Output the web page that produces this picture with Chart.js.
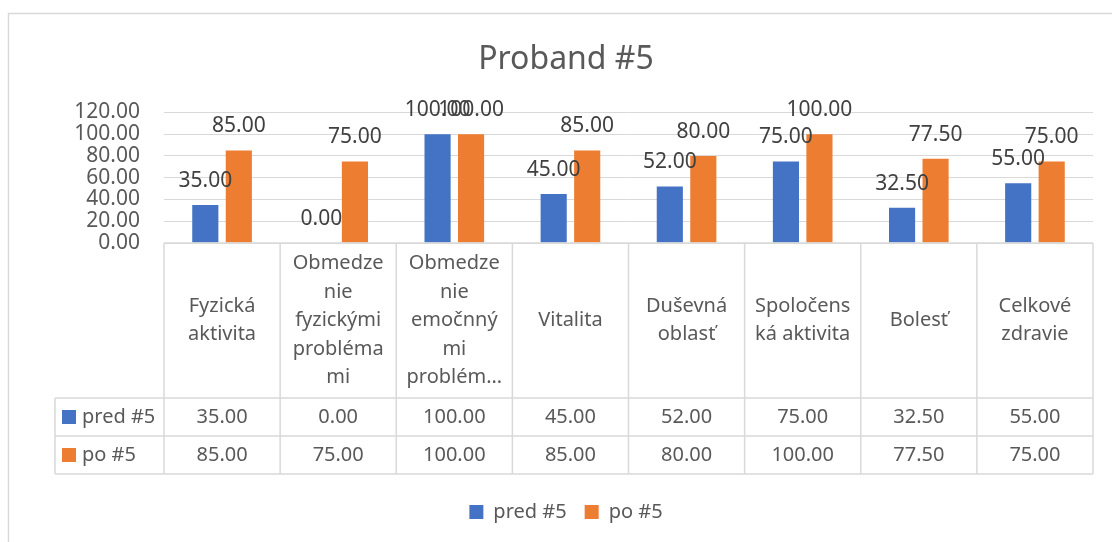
<!DOCTYPE html>
<html>
<head>
<meta charset="utf-8">
<script src="https://cdn.jsdelivr.net/npm/chart.js@4.4.0/dist/chart.umd.min.js"></script>
<style>
  html, body { margin: 0; padding: 0; background: #fff; }
  #wrap { width: 1112px; height: 542px; }
</style>
</head>
<body>
<div id="wrap"><canvas id="myChart" width="1112" height="542"></canvas></div>
<script>
'use strict';

// data
var categories = [
  ['Fyzická', 'aktivita'],
  ['Obmedze', 'nie', 'fyzickými', 'probléma', 'mi'],
  ['Obmedze', 'nie', 'emočnný', 'mi', 'problém…'],
  ['Vitalita'],
  ['Duševná', 'oblasť'],
  ['Spoločens', 'ká aktivita'],
  ['Bolesť'],
  ['Celkové', 'zdravie']
];
var seriesNames = ['pred #5', 'po #5'];
var predValues = [35, 0, 100, 45, 52, 75, 32.5, 55];
var poValues = [85, 75, 100, 85, 80, 100, 77.5, 75];
var yTicks = [0, 20, 40, 60, 80, 100, 120];

var blue = '#4472C4';
var orange = '#ED7D31';
var textGray = '#595959';
var lineGray = '#d9d9d9';
var font = "'Noto Sans', sans-serif";

// frame around the chart
var framePlugin = {
  id: 'frame',
  beforeDraw: function (chart) {
    var ctx = chart.ctx;
    ctx.save();
    ctx.strokeStyle = lineGray;
    ctx.lineWidth = 1.5;
    ctx.beginPath();
    ctx.moveTo(8.5, 542);
    ctx.lineTo(8.5, 13.5);
    ctx.lineTo(1112, 13.5);
    ctx.stroke();
    ctx.restore();
  }
};

// value labels above the bars
var labelPlugin = {
  id: 'valueLabels',
  afterDatasetsDraw: function (chart) {
    var ctx = chart.ctx;
    ctx.save();
    ctx.font = '21px ' + font;
    ctx.fillStyle = '#404040';
    ctx.textAlign = 'center';
    ctx.textBaseline = 'middle';
    chart.data.datasets.forEach(function (ds, di) {
      var meta = chart.getDatasetMeta(di);
      meta.data.forEach(function (bar, i) {
        ctx.fillText(ds.data[i].toFixed(2), bar.x, bar.y - 24);
      });
    });
    ctx.restore();
  }
};

// data table under the plot
var tablePlugin = {
  id: 'dataTable',
  afterDraw: function (chart) {
    var ctx = chart.ctx;
    var x = chart.scales.x;
    var area = chart.chartArea;
    var n = categories.length;
    var cw = (area.right - area.left) / n;
    var top = area.bottom;
    var headBottom = top + 155;
    var rowH = 38;
    var tableBottom = headBottom + rowH * 2;
    var leftCol = 55;

    ctx.save();
    ctx.strokeStyle = lineGray;
    ctx.lineWidth = 1.5;
    ctx.beginPath();
    ctx.moveTo(area.left, top); ctx.lineTo(area.right, top);
    for (var r = 0; r <= 2; r++) {
      var yy = headBottom + rowH * r;
      ctx.moveTo(leftCol, yy); ctx.lineTo(area.right, yy);
    }
    for (var i = 0; i <= n; i++) {
      var xx = area.left + cw * i;
      ctx.moveTo(xx, top); ctx.lineTo(xx, tableBottom);
    }
    ctx.moveTo(leftCol, headBottom); ctx.lineTo(leftCol, tableBottom);
    ctx.stroke();

    ctx.font = '20px ' + font;
    ctx.fillStyle = textGray;
    ctx.textAlign = 'center';
    ctx.textBaseline = 'middle';
    var lh = 28.5;
    var mid = (top + headBottom) / 2;
    categories.forEach(function (lines, i) {
      var cx = x.getPixelForValue(i);
      var y0 = mid - (lines.length - 1) * lh / 2;
      lines.forEach(function (t, k) {
        ctx.fillText(t, cx, y0 + k * lh);
      });
    });

    var rows = [predValues, poValues];
    var colors = [blue, orange];
    rows.forEach(function (vals, r) {
      var cy = headBottom + rowH * r + rowH / 2;
      ctx.fillStyle = colors[r];
      ctx.fillRect(62, cy - 7, 14, 14);
      ctx.fillStyle = textGray;
      ctx.textAlign = 'left';
      ctx.fillText(seriesNames[r], 82, cy);
      ctx.textAlign = 'center';
      vals.forEach(function (v, i) {
        ctx.fillText(v.toFixed(2), x.getPixelForValue(i), cy);
      });
    });
    ctx.restore();
  }
};

var ctx = document.getElementById('myChart').getContext('2d');
var chart = new Chart(ctx, {
  type: 'bar',
  data: {
    labels: categories.map(function (c) { return c.join(' '); }),
    datasets: [{
      label: seriesNames[0],
      backgroundColor: blue,
      data: predValues
    }, {
      label: seriesNames[1],
      backgroundColor: orange,
      data: poValues
    }]
  },
  options: {
    responsive: false,
    animation: false,
    events: [],
    categoryPercentage: 0.577,
    barPercentage: 0.78,
    layout: { padding: { left: 39, right: 19, top: 0, bottom: 10 } },
    plugins: {
      title: {
        display: true,
        text: 'Proband #5',
        color: textGray,
        font: { family: font, size: 32, weight: 'normal' },
        padding: { top: 41, bottom: 33 }
      },
      legend: {
        position: 'bottom',
        labels: {
          color: textGray,
          font: { family: font, size: 20 },
          boxWidth: 14,
          boxHeight: 14,
          padding: 18
        }
      },
      tooltip: { enabled: false }
    },
    scales: {
      x: {
        ticks: { display: false },
        grid: { display: false },
        border: { display: false },
        afterFit: function (scale) { scale.height = 241; }
      },
      y: {
        min: yTicks[0],
        max: yTicks[yTicks.length - 1],
        afterBuildTicks: function (scale) {
          scale.ticks = yTicks.map(function (v) { return { value: v }; });
        },
        ticks: {
          color: textGray,
          font: { family: font, size: 21 },
          padding: 24,
          autoSkip: false,
          callback: function (v) { return v.toFixed(2); }
        },
        grid: { color: lineGray, drawTicks: false },
        border: { display: false },
        afterFit: function (scale) { scale.width = 125; }
      }
    }
  },
  plugins: [framePlugin, labelPlugin, tablePlugin]
});
</script>
</body>
</html>
